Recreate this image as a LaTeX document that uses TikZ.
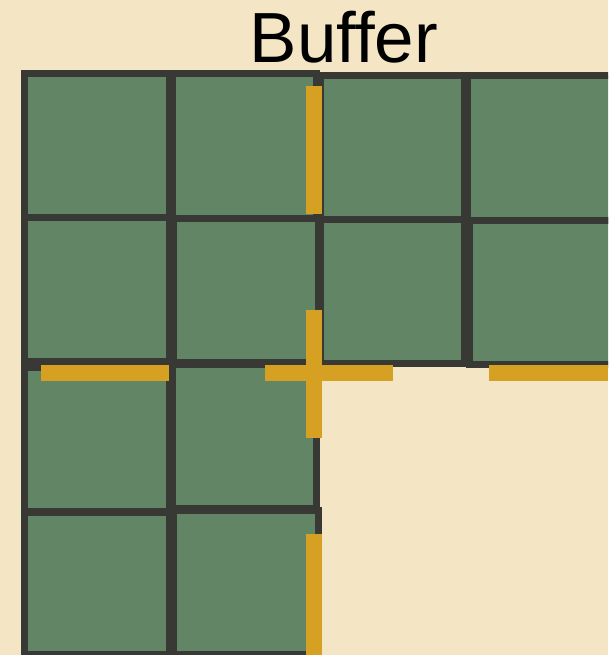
\documentclass[tikz,border=0pt]{standalone}
\usepackage{fontspec}
\setmainfont{Liberation Sans}
\usepackage{xcolor}
\definecolor{bgcream}{RGB}{244,230,196}
\definecolor{tilegreen}{RGB}{98,134,101}
\definecolor{tileedge}{RGB}{56,56,52}
\definecolor{seamgold}{RGB}{214,160,34}
\tikzset{
  tile/.style={draw=tileedge, fill=tilegreen, line width=7pt},
  seam/.style={fill=seamgold, draw=none},
  title/.style={font=\fontsize{71}{80}\selectfont, text=black, inner sep=0pt},
}

\begin{document}
\begin{tikzpicture}[x=1pt,y=-1pt]

\fill[bgcream] (0,0) rectangle (608,655);
\clip (0,0) rectangle (608,655);

% tiles, given by their green inner box: left/top/right/bottom
\foreach \l/\t/\r/\b in {28/77/166/214, 176/77/313/215, 324/79/461/216, 471/79/630/217,
                         28/221/166/358, 177/222/315/359, 324/223/461/360, 473/224/630/361,
                         28/371/166/508, 176/368/313/505,
                         28/516/166/651, 177/514/315/651}
  \draw[tile] (\l-3.5,\t-3.5) rectangle (\r+3.5,\b+3.5);

% gold seams
\fill[seam] (306,86) rectangle (322,214);
\fill[seam] (306,310) rectangle (322,438);
\fill[seam] (306,534) rectangle (322,655);
\fill[seam] (41,365) rectangle (169,381);
\fill[seam] (265,365) rectangle (393,381);
\fill[seam] (489,365) rectangle (608,381);

\node[title, anchor=base] (buffer) at (344,63) {Buffer};

\end{tikzpicture}
\end{document}
